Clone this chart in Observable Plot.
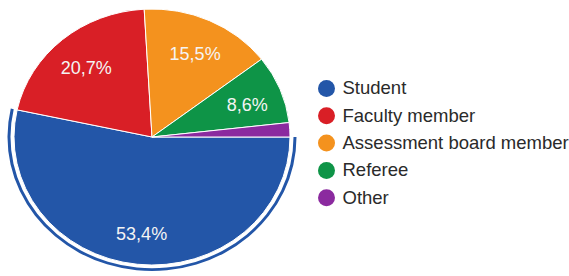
<!DOCTYPE html>
<html>
<head>
<meta charset="utf-8">
<script src="https://cdn.jsdelivr.net/npm/d3@7"></script>
<script src="https://cdn.jsdelivr.net/npm/@observablehq/plot@0.6"></script>
<style>
  html, body { margin: 0; padding: 0; background: #fff; }
  svg { display: block; }
</style>
</head>
<body>
<div id="chart"></div>
<script>
const categories = ["Student", "Faculty member", "Assessment board member", "Referee", "Other"];
const values = [53.4, 20.7, 15.5, 8.6, 1.8];
const labels = ["53,4%", "20,7%", "15,5%", "8,6%", ""];
const colors = ["#2356a8", "#d91f26", "#f4921e", "#0e9447", "#8b2a9f"];

const rows = categories.map((c, i) => ({category: c, value: values[i], label: labels[i], color: colors[i]}));

const W = 569, H = 276;
const cx = 152, cy = 137, R = 138, sy = 128 / 138;

const arcs = d3.pie().sort(null).value(d => d.value)
  .startAngle(Math.PI / 2).endAngle(Math.PI / 2 + 2 * Math.PI)(rows);

const labelRows = arcs.filter(a => a.data.label).map(a => {
  const m = (a.startAngle + a.endAngle) / 2;
  return {label: a.data.label, x: cx + R * 0.74 * Math.sin(m), y: cy + 3 - R * sy * 0.74 * Math.cos(m)};
});

function pieMark(index, scales, values, dimensions, context) {
  const g = d3.create("svg:g").attr("transform", `translate(${cx},${cy}) scale(1,${sy})`);
  const arc = d3.arc().innerRadius(0).outerRadius(R);
  g.selectAll("path.slice").data(arcs).join("path")
    .attr("class", "slice")
    .attr("d", arc)
    .attr("fill", d => d.data.color)
    .attr("stroke", "#fff")
    .attr("stroke-width", 1)
    .attr("vector-effect", "non-scaling-stroke");
  const sel = arcs[0];
  const ring = d3.arc().innerRadius(R + 3.5).outerRadius(R + 6.5)
    .startAngle(sel.startAngle).endAngle(sel.endAngle);
  g.append("path").attr("d", ring()).attr("fill", sel.data.color);
  return g.node();
}

const plot = Plot.plot({
  width: W,
  height: H,
  margin: 0,
  x: {type: "identity", axis: null},
  y: {type: "identity", axis: null},
  style: {fontFamily: "'Liberation Sans', Arial, sans-serif", background: "#fff"},
  marks: [
    pieMark,
    Plot.text(labelRows, {x: "x", y: "y", text: "label", fill: "#f4f4f4", fontSize: 18}),
    Plot.dot(rows, {x: () => 326, y: (d, i) => 88 + i * 27.3, r: 8.5, fill: "color", stroke: null}),
    Plot.text(rows, {x: () => 342, y: (d, i) => 88 + i * 27.3, text: "category", textAnchor: "start", fill: "#2a2a2a", fontSize: 18.5})
  ]
});
document.getElementById("chart").appendChild(plot);
</script>
</body>
</html>
